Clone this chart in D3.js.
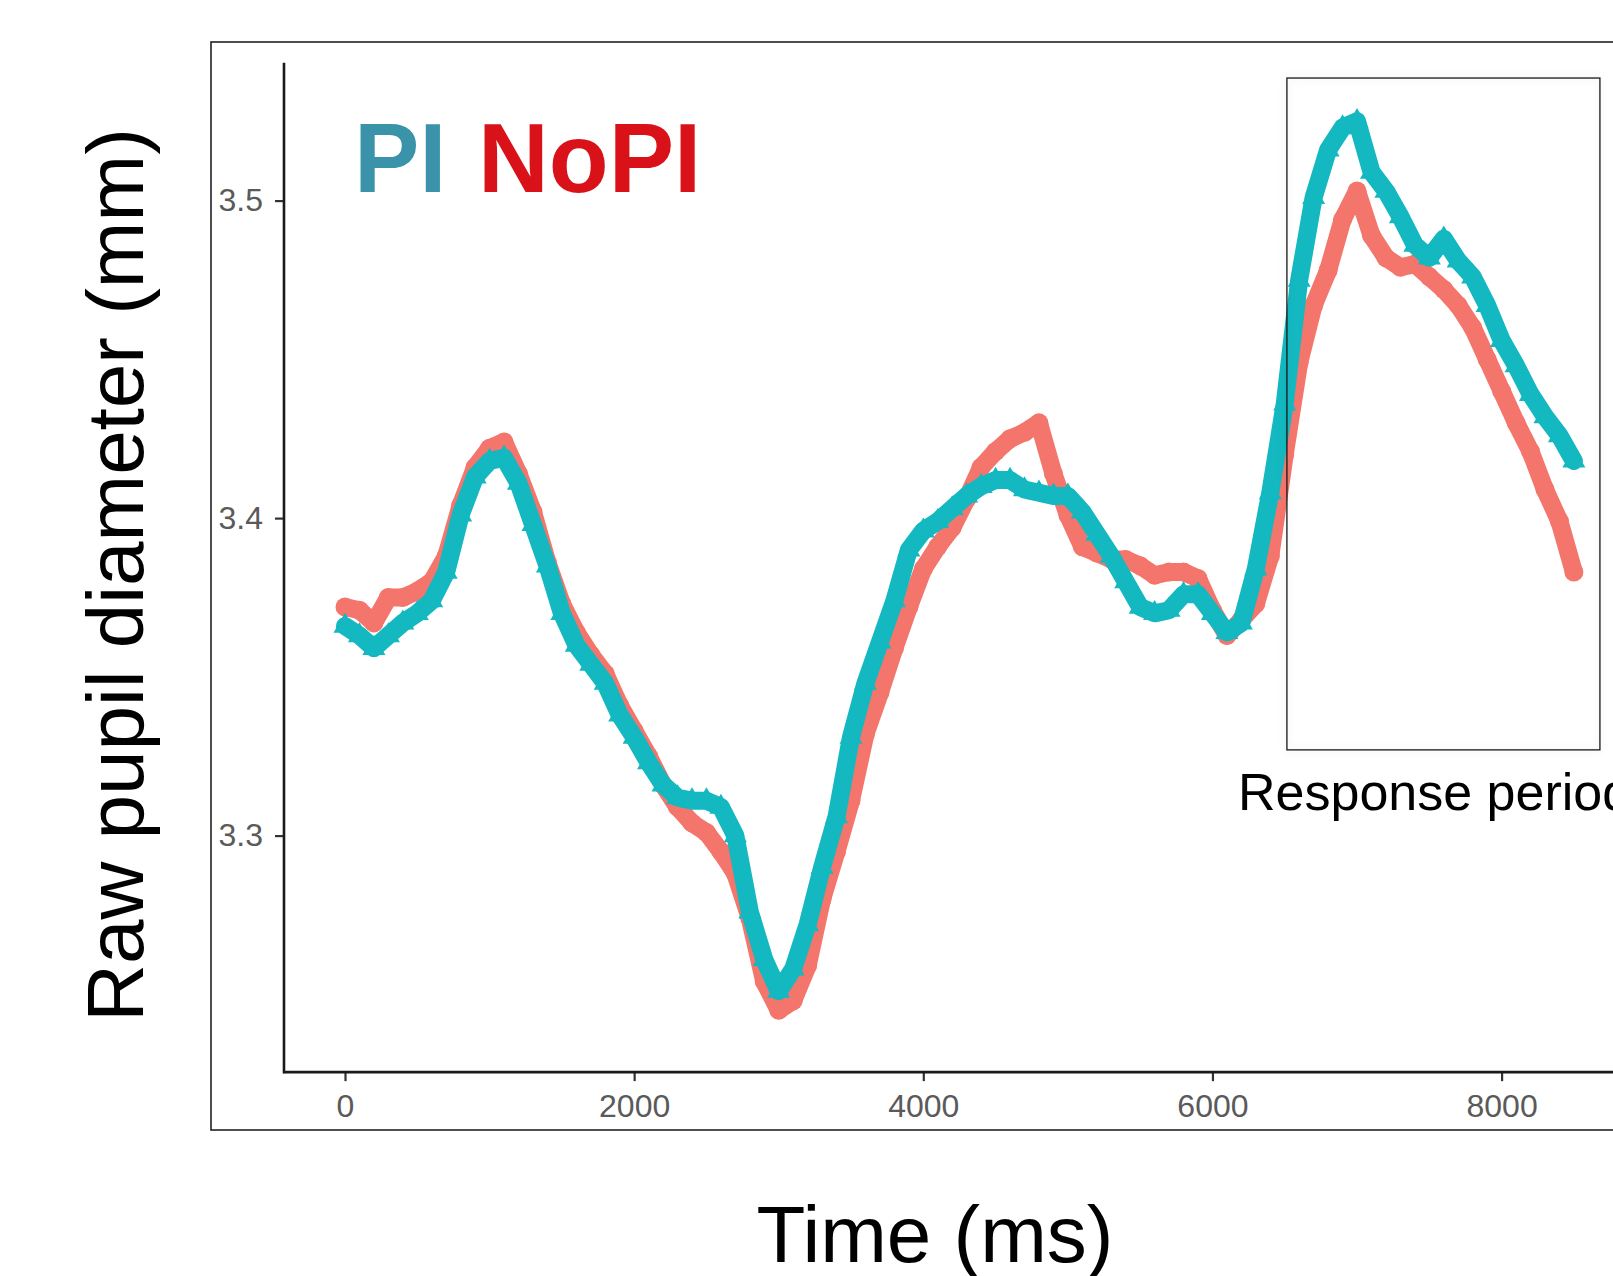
<!DOCTYPE html>
<html>
<head>
<meta charset="utf-8">
<script src="https://cdn.jsdelivr.net/npm/d3@7"></script>
<style>
  body { margin: 0; background: #fff; }
  svg { display: block; }
</style>
</head>
<body>
<div id="chart"></div>
<script>
// sample times (ms)
const timeMs = [
    0, 100, 200, 300, 400, 500, 600, 700, 800, 900,
    1000, 1100, 1200, 1300, 1400, 1500, 1600, 1700, 1800, 1900,
    2000, 2100, 2200, 2300, 2400, 2500, 2600, 2700, 2800, 2900,
    3000, 3100, 3200, 3300, 3400, 3500, 3600, 3700, 3800, 3900,
    4000, 4100, 4200, 4300, 4400, 4500, 4600, 4700, 4800, 4900,
    5000, 5100, 5200, 5300, 5400, 5500, 5600, 5700, 5800, 5900,
    6000, 6100, 6200, 6300, 6400, 6500, 6600, 6700, 6800, 6900,
    7000, 7100, 7200, 7300, 7400, 7500, 7600, 7700, 7800, 7900,
    8000, 8100, 8200, 8300, 8400, 8500
];

// raw pupil diameter (mm), PI condition
const pupilPI = [
    3.366, 3.363, 3.359, 3.363, 3.367, 3.370, 3.374, 3.383, 3.401, 3.413,
    3.418, 3.419, 3.411, 3.398, 3.385, 3.370, 3.360, 3.354, 3.348, 3.338,
    3.331, 3.323, 3.316, 3.312, 3.311, 3.311, 3.309, 3.300, 3.276, 3.261,
    3.251, 3.258, 3.272, 3.290, 3.306, 3.331, 3.348, 3.361, 3.374, 3.390,
    3.396, 3.399, 3.403, 3.407, 3.410, 3.412, 3.412, 3.409, 3.408, 3.407,
    3.407, 3.402, 3.395, 3.388, 3.380, 3.372, 3.370, 3.371, 3.376, 3.376,
    3.370, 3.364, 3.367, 3.384, 3.408, 3.436, 3.475, 3.501, 3.516, 3.523,
    3.525, 3.509, 3.503, 3.495, 3.486, 3.482, 3.488, 3.481, 3.476, 3.467,
    3.456, 3.448, 3.439, 3.432, 3.426, 3.418
];

// raw pupil diameter (mm), NoPI condition
const pupilNoPI = [
    3.372, 3.371, 3.367, 3.375, 3.375, 3.377, 3.380, 3.388, 3.404, 3.416,
    3.422, 3.424, 3.414, 3.402, 3.386, 3.373, 3.364, 3.357, 3.351, 3.341,
    3.333, 3.325, 3.316, 3.309, 3.304, 3.301, 3.295, 3.288, 3.274, 3.254,
    3.245, 3.248, 3.259, 3.280, 3.295, 3.311, 3.332, 3.345, 3.359, 3.372,
    3.384, 3.391, 3.397, 3.406, 3.416, 3.421, 3.425, 3.427, 3.430, 3.414,
    3.401, 3.391, 3.389, 3.387, 3.387, 3.385, 3.382, 3.383, 3.383, 3.381,
    3.371, 3.363, 3.368, 3.373, 3.388, 3.420, 3.449, 3.467, 3.478, 3.494,
    3.503, 3.489, 3.482, 3.479, 3.480, 3.476, 3.472, 3.467, 3.460, 3.450,
    3.440, 3.430, 3.421, 3.409, 3.399, 3.383
];

const xTicks = [0, 2000, 4000, 6000, 8000];
const yTicks = [3.3, 3.4, 3.5];
const responsePeriod = [6515, 8680];   // ms, box left/right
const responseRange = [3.327, 3.5386]; // mm, box bottom/top

const width = 1613, height = 1276;
const font = "'Liberation Sans', Arial, Helvetica, sans-serif";
const colPI = "#13b8c0", colNoPI = "#f4756c";

const svg = d3.select("#chart")
    .append("svg")
    .attr("width", width)
    .attr("height", height)
    .style("font-family", font);

const x = d3.scaleLinear().domain([0, 8000]).range([345, 1501.6]);
const y = d3.scaleLinear().domain([3.3, 3.5]).range([835.6, 200.6]);

// outer frame of the screenshot
svg.append("rect")
    .attr("x", 211).attr("y", 42)
    .attr("width", 1500).attr("height", 1088)
    .attr("fill", "#fff")
    .attr("stroke", "#222")
    .attr("stroke-width", 1.6);

const xAxisY = y(3.2255);
const yAxisX = x(-422);

// X axis
const gx = svg.append("g")
    .attr("transform", "translate(0," + xAxisY + ")")
    .call(d3.axisBottom(x).tickValues(xTicks).tickSize(9).tickSizeOuter(0).tickPadding(13).tickFormat(d3.format("d")));
gx.select(".domain").remove();
gx.selectAll(".tick line").attr("stroke", "#333").attr("stroke-width", 2.2);
gx.selectAll(".tick text")
    .attr("fill", "#5a5a5a")
    .style("font-size", "32px")
    .style("font-family", font);
gx.append("line")
    .attr("x1", yAxisX - 1).attr("x2", width + 10)
    .attr("stroke", "#1a1a1a").attr("stroke-width", 2.6);

// Y axis
const gy = svg.append("g")
    .attr("transform", "translate(" + yAxisX + ",0)")
    .call(d3.axisLeft(y).tickValues(yTicks).tickSize(9).tickSizeOuter(0).tickPadding(12).tickFormat(d3.format(".1f")));
gy.select(".domain").remove();
gy.selectAll(".tick line").attr("stroke", "#333").attr("stroke-width", 2.2);
gy.selectAll(".tick text")
    .attr("fill", "#5a5a5a")
    .style("font-size", "32px")
    .style("font-family", font);
gy.append("line")
    .attr("y1", y(3.5434)).attr("y2", xAxisY + 1)
    .attr("stroke", "#1a1a1a").attr("stroke-width", 2.6);

// series (NoPI first so PI sits on top, as in the original)
const series = [
    {name: "NoPI", values: pupilNoPI, color: colNoPI, shape: "circle"},
    {name: "PI", values: pupilPI, color: colPI, shape: "triangle"}
];

const line = d3.line()
    .x((d, i) => x(timeMs[i]))
    .y(d => y(d));

series.forEach(function(s) {
    const g = svg.append("g").attr("class", "series-" + s.name);

    g.append("path")
        .datum(s.values)
        .attr("d", line)
        .attr("fill", "none")
        .attr("stroke", s.color)
        .attr("stroke-width", 18)
        .attr("stroke-linejoin", "round")
        .attr("stroke-linecap", "round");

    if (s.shape === "circle") {
        g.selectAll("circle")
            .data(s.values)
            .enter()
            .append("circle")
            .attr("cx", (d, i) => x(timeMs[i]))
            .attr("cy", d => y(d))
            .attr("r", 9.5)
            .attr("fill", s.color);
    } else {
        g.selectAll("path.pt")
            .data(s.values)
            .enter()
            .append("path")
            .attr("class", "pt")
            .attr("d", d3.symbol().type(d3.symbolTriangle).size(230))
            .attr("transform", (d, i) => "translate(" + x(timeMs[i]) + "," + y(d) + ")")
            .attr("fill", s.color);
    }
});

// response period box
const defs = svg.append("defs");
const shadow = defs.append("filter").attr("id", "soft").attr("x", "-10%").attr("y", "-10%")
    .attr("width", "120%").attr("height", "120%");
shadow.append("feDropShadow")
    .attr("dx", 0).attr("dy", 0).attr("stdDeviation", 4)
    .attr("flood-color", "#000").attr("flood-opacity", 0.12);

const bx0 = x(responsePeriod[0]), bx1 = x(responsePeriod[1]);
const by0 = y(responseRange[1]), by1 = y(responseRange[0]);
svg.append("rect")
    .attr("x", bx0).attr("y", by0)
    .attr("width", bx1 - bx0).attr("height", by1 - by0)
    .attr("fill", "none")
    .attr("stroke", "#1a1a1a")
    .attr("stroke-width", 1.3)
    .attr("filter", "url(#soft)");

svg.append("text")
    .attr("x", 1238).attr("y", 810)
    .attr("fill", "#000")
    .style("font-size", "52px")
    .text("Response period");

// condition labels
svg.append("text")
    .attr("x", 354).attr("y", 192)
    .attr("fill", "#3a93a8")
    .style("font-size", "98px")
    .style("font-weight", "bold")
    .text("PI");
svg.append("text")
    .attr("x", 478).attr("y", 192)
    .attr("fill", "#d91118")
    .style("font-size", "98px")
    .style("font-weight", "bold")
    .text("NoPI");

// axis titles
svg.append("text")
    .attr("transform", "translate(143,575) rotate(-90)")
    .attr("text-anchor", "middle")
    .attr("fill", "#000")
    .style("font-size", "80px")
    .text("Raw pupil diameter (mm)");

svg.append("text")
    .attr("x", 935).attr("y", 1262)
    .attr("text-anchor", "middle")
    .attr("fill", "#000")
    .style("font-size", "80px")
    .text("Time (ms)");
</script>
</body>
</html>
